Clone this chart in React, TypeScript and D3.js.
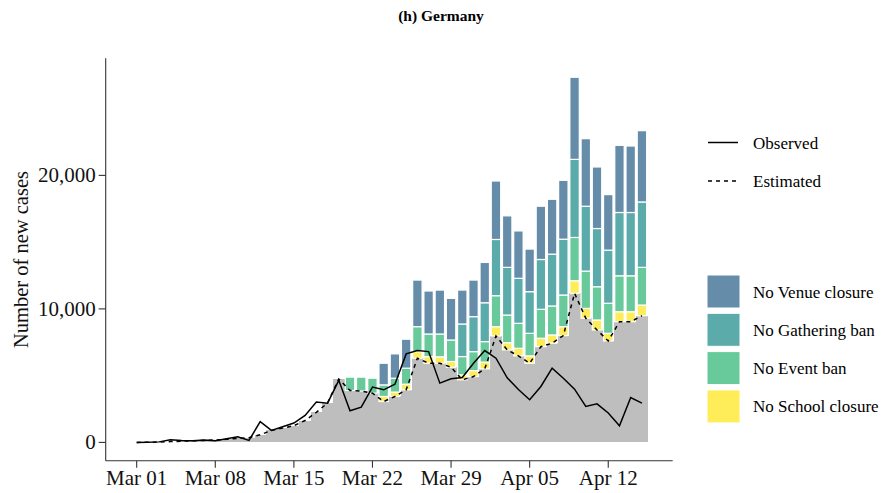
import React from 'react'
import * as d3 from 'd3'

// days from Mar 01 to Apr 15
const dayLabels = d3.range(46).map(i => d3.utcFormat('%b %d')(new Date(Date.UTC(2020, 2, 1 + i))))

// estimated (grey base)
const estimated = [
	0, 10, 30, 60, 90, 120, 150, 180, 230, 300, 350, 570, 900, 1070, 1250, 1640, 2250, 2950, 4750, 3890,
	3850, 3690, 3060, 3440, 3940, 6310, 5930, 5930, 5630, 4690, 4930, 5510, 7970, 6930, 6480, 5930, 7170,
	7430, 8000, 11170, 9300, 8420, 7600, 9040, 9040, 9490,
]
const noSchool = [
	0, 0, 0, 0, 0, 0, 0, 0, 0, 0, 0, 0, 0, 0, 0, 0, 0, 0, 0, 0, 0, 0, 380, 330, 420, 490, 500, 480, 430, 370,
	450, 500, 700, 540, 570, 550, 630, 620, 670, 940, 740, 750, 570, 750, 750, 800,
]
const noEvent = [
	0, 0, 0, 0, 0, 0, 0, 0, 0, 0, 0, 0, 0, 0, 0, 0, 0, 0, 0, 1000, 1040, 1120, 870, 1040, 1200, 1870, 1690,
	1710, 1610, 1370, 1420, 1540, 2320, 2070, 1870, 1690, 2170, 2170, 2370, 3240, 2790, 2490, 2250, 2690,
	2690, 2820,
]
const noGathering = [
	0, 0, 0, 0, 0, 0, 0, 0, 0, 0, 0, 0, 0, 0, 0, 0, 0, 0, 0, 0, 0, 0, 0, 0, 0, 0, 0, 0, 0, 2440, 2620, 2910,
	4210, 3570, 3370, 3120, 3730, 3880, 4180, 5850, 4860, 4360, 3980, 4740, 4740, 4900,
]
const noVenue = [
	0, 0, 0, 0, 0, 0, 0, 0, 0, 0, 0, 0, 0, 0, 0, 0, 0, 0, 0, 0, 0, 0, 1620, 1820, 2170, 3490, 3220, 3290,
	3120, 2540, 2740, 3020, 4380, 3860, 3550, 3190, 3990, 4110, 4410, 6150, 5060, 4610, 4160, 5030, 4980,
	5340,
]
const observed = [
	0, 20, 40, 190, 140, 130, 180, 130, 270, 420, 150, 1550, 900, 1170, 1450, 2020, 3020, 2940, 4650, 2370,
	2640, 4140, 3940, 4360, 6630, 6880, 6800, 4440, 4760, 4860, 5930, 6880, 6310, 4840, 3960, 3200, 4190,
	5560, 4810, 3990, 2690, 2890, 2200, 1250, 3360, 2940,
]

const xTicks = [0, 7, 14, 21, 28, 35, 42]
const yTicks = [0, 10000, 20000]

const layers = [
	{ key: 'school', label: 'No School closure', values: noSchool, color: '#FEEC58' },
	{ key: 'event', label: 'No Event ban', values: noEvent, color: '#68C99B' },
	{ key: 'gathering', label: 'No Gathering ban', values: noGathering, color: '#5AABA9' },
	{ key: 'venue', label: 'No Venue closure', values: noVenue, color: '#658DAA' },
]

const font = '"Liberation Serif", "Times New Roman", serif'

export default function App() {
	const width = 883
	const height = 493
	const margin = { left: 105.7, right: 672.7, top: 58.3, bottom: 460.7 }

	const x = d3.scaleLinear().domain([-2.76, 47.74]).range([margin.left, margin.right])
	const y = d3.scaleLinear().domain([-1370, 28770]).range([margin.bottom, margin.top])
	const step = x(1) - x(0)
	const barW = step * 0.84

	const line = d3
		.line<number>()
		.x((_, i) => x(i))
		.y(d => y(d))

	// stacked segments
	const segs: { i: number; y0: number; y1: number; color: string }[] = []
	estimated.forEach((base, i) => {
		let acc = base
		layers.forEach(l => {
			const v = l.values[i]
			if (v > 0) {
				segs.push({ i, y0: acc, y1: acc + v, color: l.color })
				acc += v
			}
		})
	})

	const legendFill = [...layers].reverse()

	return (
		<svg width={width} height={height} style={{ display: 'block', position: 'absolute', left: 0, top: 0 }}>
			<rect width={width} height={height} fill="#fff" />
			<text x={441} y={21} textAnchor="middle" fontFamily={font} fontWeight="bold" fontSize={15.5}>
				(h) Germany
			</text>

			{/* grey base bars */}
			<g shapeRendering="crispEdges">
				{estimated.map((v, i) => (
					<rect
						key={'g' + i}
						x={x(i) - step / 2}
						width={step + (i < estimated.length - 1 ? 1 : 0)}
						y={y(v)}
						height={y(0) - y(v)}
						fill="#BEBEBE"
					/>
				))}
			</g>

			{/* counterfactual increments */}
			{segs.map((s, k) => (
				<rect
					key={'s' + k}
					x={x(s.i) - barW / 2}
					width={barW}
					y={y(s.y1)}
					height={y(s.y0) - y(s.y1)}
					fill={s.color}
					stroke="#fff"
					strokeWidth={1.2}
				/>
			))}

			<path d={line(estimated) || ''} fill="none" stroke="#000" strokeWidth={1.5} strokeDasharray="4,4" />
			<path d={line(observed) || ''} fill="none" stroke="#000" strokeWidth={1.5} />

			{/* axes */}
			<line x1={margin.left} x2={margin.left} y1={margin.top} y2={margin.bottom} stroke="#333" strokeWidth={1.1} />
			<line x1={margin.left} x2={margin.right} y1={margin.bottom} y2={margin.bottom} stroke="#333" strokeWidth={1.1} />
			{yTicks.map(t => (
				<g key={'yt' + t}>
					<line x1={margin.left - 7} x2={margin.left} y1={y(t)} y2={y(t)} stroke="#333" strokeWidth={1.1} />
					<text x={margin.left - 10} y={y(t) + 7} textAnchor="end" fontFamily={font} fontSize={21} fill="#111">
						{d3.format(',')(t)}
					</text>
				</g>
			))}
			{xTicks.map(t => (
				<g key={'xt' + t}>
					<line x1={x(t)} x2={x(t)} y1={margin.bottom} y2={margin.bottom + 7} stroke="#333" strokeWidth={1.1} />
					<text x={x(t)} y={margin.bottom + 24} textAnchor="middle" fontFamily={font} fontSize={21} fill="#111">
						{dayLabels[t]}
					</text>
				</g>
			))}
			<text
				transform={`translate(28, ${(margin.top + margin.bottom) / 2}) rotate(-90)`}
				textAnchor="middle"
				fontFamily={font}
				fontSize={20.5}
				fill="#111"
			>
				Number of new cases
			</text>

			{/* legend: lines */}
			<line x1={708} x2={738} y1={142.5} y2={142.5} stroke="#000" strokeWidth={1.5} />
			<text x={753} y={148.5} fontFamily={font} fontSize={17}>Observed</text>
			<line x1={708} x2={738} y1={181} y2={181} stroke="#000" strokeWidth={1.5} strokeDasharray="4,4" />
			<text x={753} y={187} fontFamily={font} fontSize={17}>Estimated</text>

			{/* legend: fills */}
			{legendFill.map((l, k) => (
				<g key={'lf' + l.key}>
					<rect x={707} y={275 + k * 38.3} width={33} height={33} fill={l.color} stroke="#fff" strokeWidth={1} />
					<text x={753} y={275 + k * 38.3 + 22.5} fontFamily={font} fontSize={17}>
						{l.label}
					</text>
				</g>
			))}
		</svg>
	)
}
